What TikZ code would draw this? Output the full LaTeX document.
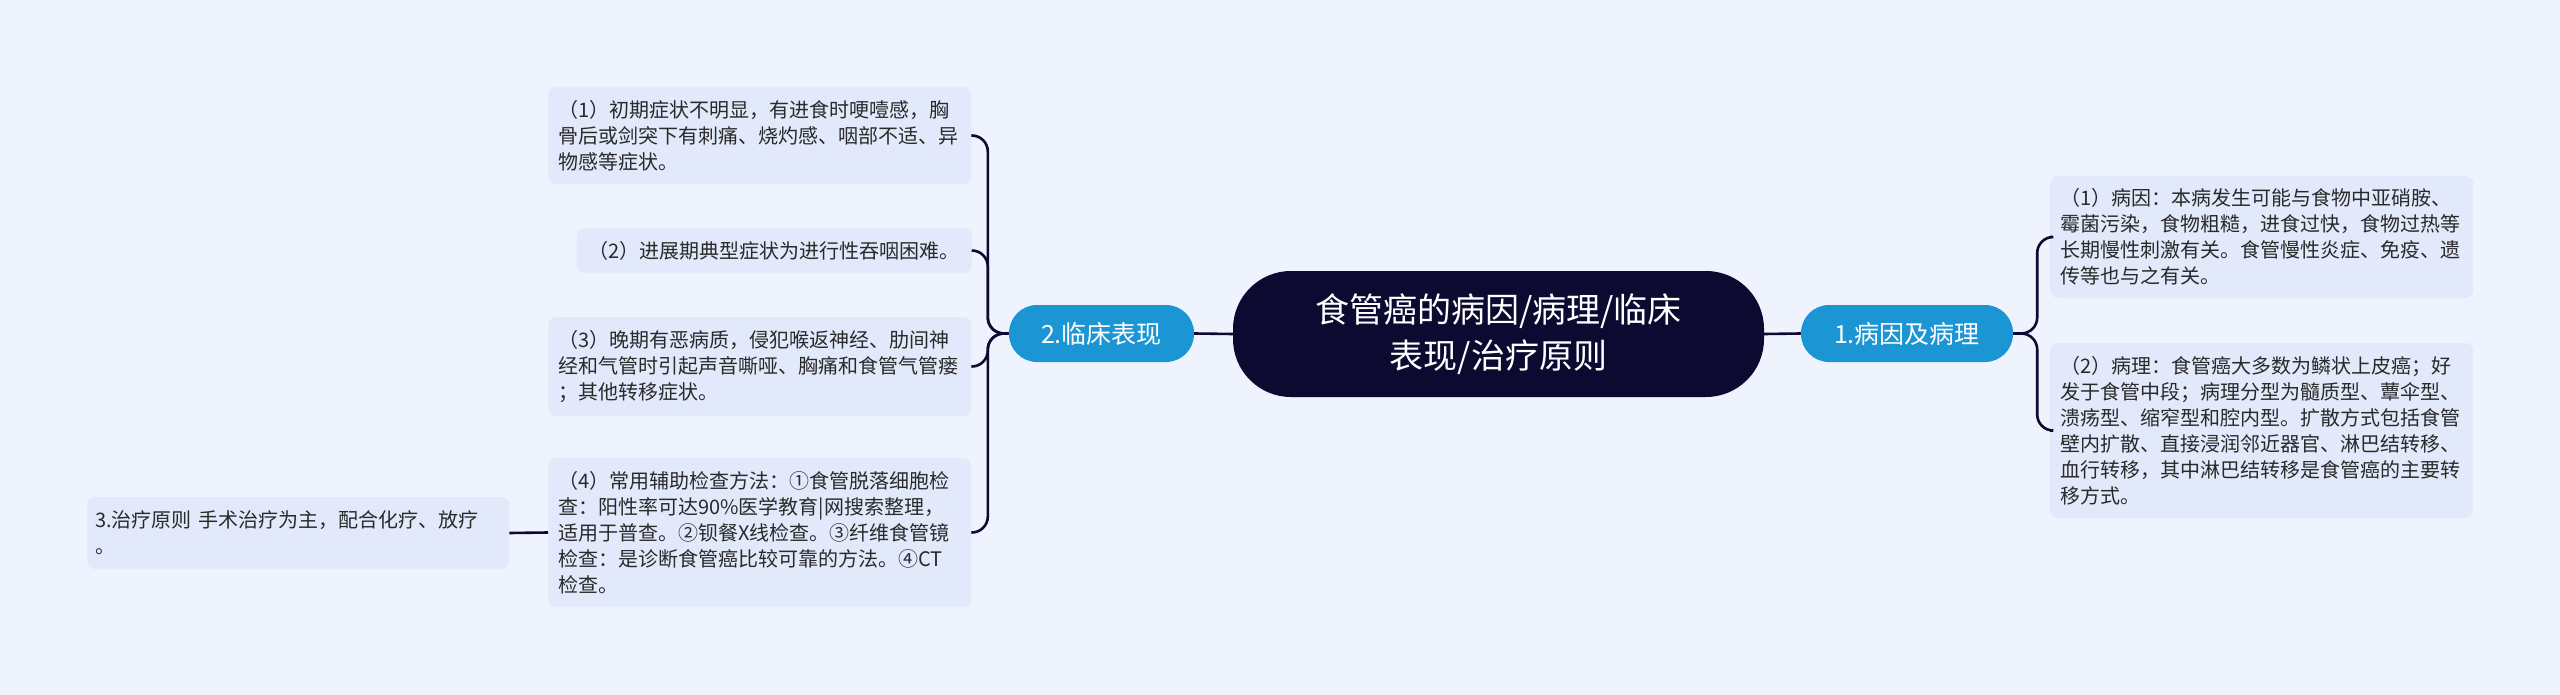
\documentclass[tikz,border=0pt]{standalone}
\usepackage{fontspec}
\setmainfont{Noto Sans CJK SC}
\definecolor{bgc}{HTML}{EEF3FD}
\definecolor{boxc}{HTML}{E1E9FA}
\definecolor{navy}{HTML}{0C0A30}
\definecolor{bluec}{HTML}{1B95D3}
\definecolor{txt}{HTML}{2A2A2A}
\begin{document}
\begin{tikzpicture}[x=1pt,y=-1pt,
  conn/.style={draw=navy,line width=2.6pt},
  textbox/.style={fill=boxc,rounded corners=8pt,inner xsep=10pt,inner ysep=0pt,align=left,text=txt,
    font=\fontsize{20}{26}\selectfont,text width=403pt},
  rootnode/.style={fill=navy,rounded corners=58pt,text=white,align=center,inner sep=0pt,
    font=\fontsize{34}{46}\selectfont,minimum width=531pt,minimum height=126pt},
  branch/.style={fill=bluec,rounded corners=28pt,text=white,inner sep=0pt,
    font=\fontsize{25}{30}\selectfont,minimum height=57pt}]
\useasboundingbox (0,0) rectangle (2560,695);
\fill[bgc] (0,0) rectangle (2560,695);

\node[rootnode] (c) at (1498.5,334) {食管癌的病因/病理/临床\\表现/治疗原则};
\node[branch,minimum width=185pt] (b2) at (1101.5,333.5) {2.临床表现};
\node[branch,minimum width=212pt] (b1) at (1907,333.5) {1.病因及病理};

\node[textbox,anchor=west,minimum height=97pt] (l1) at (548,135.5)
  {（1）初期症状不明显，有进食时哽噎感，胸\\骨后或剑突下有刺痛、烧灼感、咽部不适、异\\物感等症状。};
\node[textbox,anchor=east,minimum height=45pt,text width=,inner xsep=12pt] (l2) at (972,250.5)
  {（2）进展期典型症状为进行性吞咽困难。};
\node[textbox,anchor=west,minimum height=99pt] (l3) at (548,366.5)
  {（3）晚期有恶病质，侵犯喉返神经、肋间神\\经和气管时引起声音嘶哑、胸痛和食管气管瘘\\；其他转移症状。};
\node[textbox,anchor=west,minimum height=149pt] (l4) at (548,532.5)
  {（4）常用辅助检查方法：①食管脱落细胞检\\查：阳性率可达90\%医学教育|网搜索整理，\\适用于普查。②钡餐X线检查。③纤维食管镜\\检查：是诊断食管癌比较可靠的方法。④CT\\检查。};
\node[textbox,anchor=west,minimum height=72pt,inner xsep=8pt,text width=406pt] (t) at (87,533)
  {3.治疗原则 手术治疗为主，配合化疗、放疗\\。};

\node[textbox,anchor=west,minimum height=122pt] (r1) at (2050,237)
  {（1）病因：本病发生可能与食物中亚硝胺、\\霉菌污染，食物粗糙，进食过快，食物过热等\\长期慢性刺激有关。食管慢性炎症、免疫、遗\\传等也与之有关。};
\node[textbox,anchor=west,minimum height=175pt] (r2) at (2050,430.5)
  {（2）病理：食管癌大多数为鳞状上皮癌；好\\发于食管中段；病理分型为髓质型、蕈伞型、\\溃疡型、缩窄型和腔内型。扩散方式包括食管\\壁内扩散、直接浸润邻近器官、淋巴结转移、\\血行转移，其中淋巴结转移是食管癌的主要转\\移方式。};

\draw[conn] (c.west) -- (b2.east);
\draw[conn] (c.east) -- (b1.west);
\foreach \n in {l1,l2,l3,l4}
  \draw[conn,rounded corners=16pt] (b2.west) -- ++(-21,0) |- (\n.east);
\foreach \n in {r1,r2}
  \draw[conn,rounded corners=16pt] (b1.east) -- ++(24,0) |- (\n.west);
\draw[conn] (l4.west) -- (t.east);
\end{tikzpicture}
\end{document}
